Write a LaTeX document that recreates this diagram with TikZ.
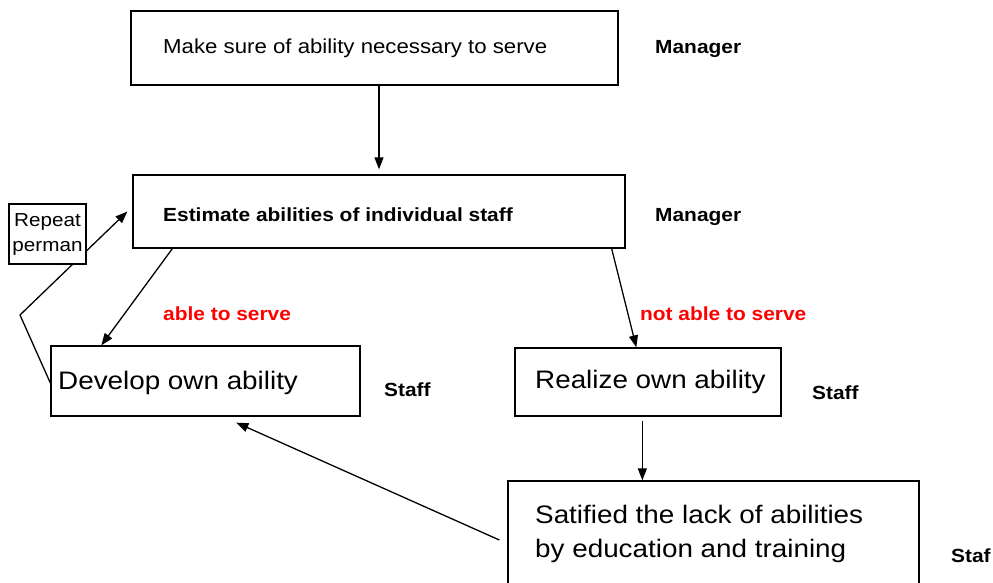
\documentclass[tikz,border=0pt]{standalone}
\usepackage{fontspec}
\setmainfont{Liberation Sans}[FakeStretch=1.1]
\usetikzlibrary{arrows.meta}
\begin{document}
\begin{tikzpicture}[x=1pt,y=-1pt,
 box/.style={draw, line width=1.3pt, inner sep=0pt, fill=white},
 arr/.style={-{Triangle[length=12pt,width=9pt]}, line width=1.3pt},
 txs/.style={anchor=base west, inner sep=0pt, font=\fontsize{20.2}{24}\selectfont},
 txl/.style={anchor=base west, inner sep=0pt, font=\fontsize{25.3}{30}\selectfont},
 role/.style={anchor=base west, inner sep=0pt, font=\fontsize{19}{23}\selectfont\bfseries},
 cond/.style={role, text=red}]
\useasboundingbox (0,0) rectangle (993,583);
\clip (0,0) rectangle (993,583);
\fill[white] (0,0) rectangle (993,583);
% boxes
\node[box, minimum width=487, minimum height=74] (b1) at (374.5,48) {};
\node[box, minimum width=492, minimum height=73] (b2) at (379,211.5) {};
\node[box, minimum width=309, minimum height=70] (b3) at (205.5,381) {};
\node[box, minimum width=266, minimum height=68] (b4) at (648,382) {};
\node[box, minimum width=411, minimum height=129] (b5) at (713.5,545.5) {};
% connectors
\draw[arr] (b1.south) ++(4.5pt,0) -- ([yshift=5pt]b2.north);
\draw[arr] ([xshift=40pt]b2.south west) -- ([xshift=51pt]b3.north west);
\draw[arr] ([xshift=-14pt]b2.south east) -- ([xshift=122pt]b4.north west);
\draw[arr] ([xshift=128pt,yshift=-4pt]b4.south west) -- ([xshift=135pt]b5.north west);
\draw[arr] ([xshift=-8pt,yshift=5.5pt]b5.west) -- ([xshift=186pt,yshift=-6pt]b3.south west);
\coordinate (k) at (20,315);
\draw[arr] ([yshift=-2pt]b3.west) -- (k) -- ([xshift=-5pt]b2.west);
\node[box, minimum width=77, minimum height=60, align=center,
  font=\fontsize{18.8}{25}\selectfont] (rep) at (47.5,234) {Repeat\\perman};
% texts
\node[txs] (t1) at (163,54) {Make sure of ability necessary to serve};
\node[role] (m1) at (655,54) {Manager};
\node[role] (t2) at (163,221) {Estimate abilities of individual staff};
\node[role] (m2) at (655,221) {Manager};
\node[cond] (c1) at (163,320) {able to serve};
\node[cond] (c2) at (640,320) {not able to serve};
\node[txl] (t3) at (58,389) {Develop own ability};
\node[role] (s1) at (384,396) {Staff};
\node[txl] (t4) at (535,388) {Realize own ability};
\node[role] (s2) at (812,399) {Staff};
\node[txl] (t5) at (535,523) {Satified the lack of abilities};
\node[txl] (t6) at (535,557) {by education and training};
\node[role] (s3) at (951,562) {Staf};
\end{tikzpicture}
\end{document}
